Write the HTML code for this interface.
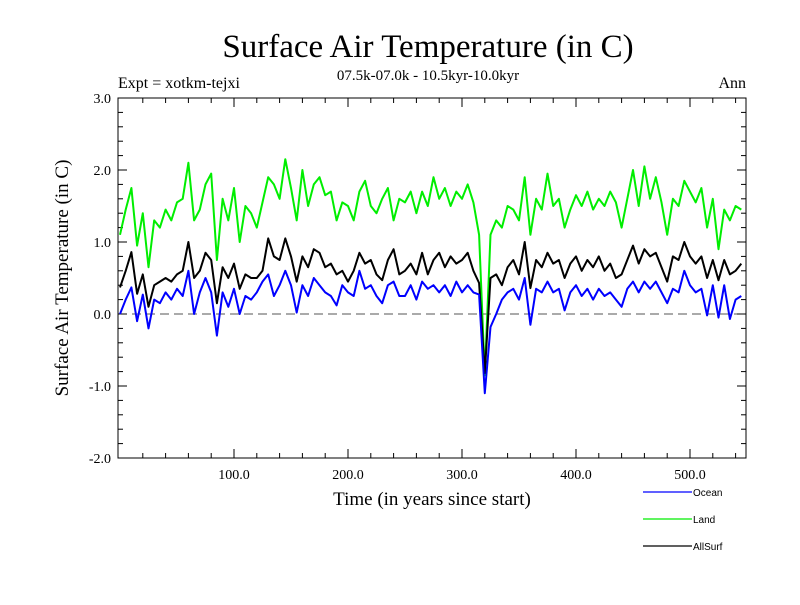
<!DOCTYPE html>
<html><head><meta charset="utf-8"><style>
body{margin:0;background:#fff;}
svg text{font-family:"Liberation Serif",serif;}
svg text.sans{font-family:"Liberation Sans",sans-serif;}
</style></head><body>
<svg id="chart" width="800" height="600" viewBox="0 0 800 600" xmlns="http://www.w3.org/2000/svg">
<text x="428" y="57" font-size="33" text-anchor="middle">Surface Air Temperature (in C)</text>
<text x="428" y="80" font-size="15" text-anchor="middle">07.5k-07.0k - 10.5kyr-10.0kyr</text>
<text x="118" y="88" font-size="16">Expt = xotkm-tejxi</text>
<text x="746" y="88" font-size="16" text-anchor="end">Ann</text>
<text transform="translate(68,278) rotate(-90)" font-size="19" text-anchor="middle">Surface Air Temperature (in C)</text>
<text x="432" y="505" font-size="19" text-anchor="middle">Time (in years since start)</text>
<g id="axes"></g>
<g id="series"></g>
<rect x="118" y="98" width="628" height="360" fill="none" stroke="#000" stroke-width="1"/>
<g id="legend"></g>
</svg>
<script>
const years = [];
for (let y = 0; y <= 545; y += 5) years.push(y);
const landValues = [1.1,1.45,1.75,0.95,1.4,0.65,1.3,1.2,1.45,1.3,1.55,1.6,2.1,1.3,1.45,1.8,1.95,0.75,1.6,1.3,1.75,1.0,1.5,1.4,1.2,1.55,1.9,1.8,1.6,2.15,1.75,1.3,2.0,1.5,1.8,1.9,1.65,1.7,1.3,1.55,1.5,1.3,1.7,1.85,1.5,1.4,1.6,1.75,1.3,1.6,1.55,1.7,1.4,1.7,1.5,1.9,1.6,1.75,1.5,1.7,1.6,1.8,1.55,1.1,-0.85,1.1,1.3,1.2,1.5,1.45,1.3,1.9,1.1,1.6,1.45,1.95,1.5,1.6,1.2,1.45,1.65,1.5,1.7,1.45,1.6,1.5,1.7,1.55,1.2,1.6,2.0,1.5,2.05,1.6,1.9,1.55,1.1,1.6,1.5,1.85,1.7,1.55,1.75,1.2,1.6,0.9,1.45,1.3,1.5,1.45];
const allSurfValues = [0.37,0.6,0.86,0.28,0.55,0.1,0.4,0.45,0.5,0.45,0.55,0.6,1.0,0.5,0.6,0.85,0.75,0.15,0.65,0.5,0.7,0.35,0.55,0.5,0.5,0.6,1.05,0.8,0.75,1.05,0.8,0.45,0.8,0.65,0.9,0.85,0.65,0.7,0.55,0.6,0.45,0.6,0.85,0.7,0.75,0.55,0.47,0.75,0.9,0.55,0.6,0.7,0.55,0.85,0.55,0.75,0.85,0.65,0.8,0.7,0.75,0.85,0.6,0.43,-0.82,0.5,0.55,0.4,0.65,0.75,0.55,1.0,0.36,0.75,0.65,0.85,0.7,0.75,0.5,0.7,0.8,0.6,0.75,0.65,0.8,0.6,0.7,0.5,0.55,0.75,0.95,0.7,0.9,0.8,0.85,0.65,0.45,0.8,0.75,1.0,0.8,0.7,0.8,0.5,0.75,0.47,0.75,0.55,0.6,0.7];
const oceanValues = [0.0,0.2,0.37,-0.1,0.27,-0.2,0.2,0.15,0.3,0.2,0.35,0.25,0.6,0.0,0.3,0.5,0.3,-0.3,0.3,0.1,0.35,0.0,0.25,0.2,0.3,0.45,0.55,0.25,0.4,0.6,0.4,0.02,0.4,0.25,0.5,0.4,0.3,0.25,0.12,0.4,0.3,0.25,0.6,0.35,0.4,0.25,0.15,0.4,0.45,0.25,0.25,0.4,0.2,0.45,0.35,0.4,0.3,0.4,0.25,0.45,0.3,0.4,0.3,0.27,-1.1,-0.18,0.0,0.2,0.3,0.35,0.2,0.5,-0.15,0.35,0.3,0.45,0.3,0.35,0.05,0.3,0.4,0.25,0.35,0.2,0.35,0.25,0.3,0.2,0.1,0.35,0.45,0.3,0.45,0.35,0.45,0.3,0.15,0.35,0.3,0.6,0.4,0.3,0.35,-0.02,0.4,-0.05,0.4,-0.07,0.2,0.25];
const yTickValues = [-2.0,-1.0,0.0,1.0,2.0,3.0];
const xTickValues = [100,200,300,400,500];
const seriesNames = ["Ocean","Land","AllSurf"];

const NS = "http://www.w3.org/2000/svg";
const X0 = 120, XS = 1.14, Y0 = 314, YS = 72;
function xPos(yr){ return X0 + yr * XS; }
function yPos(v){ return Y0 - v * YS; }
function mk(tag, attrs, parent){ const e = document.createElementNS(NS, tag); for (const k in attrs) e.setAttribute(k, attrs[k]); parent.appendChild(e); return e; }

const axes = document.getElementById("axes");
const zl = mk("line", {x1:118, x2:746, y1:yPos(0), y2:yPos(0), stroke:"#555", "stroke-width":1, "stroke-dasharray":"9,5"}, axes);


for (let v = -2.0; v <= 3.0001; v += 0.2) {
  const major = Math.abs(v - Math.round(v)) < 1e-6;
  const L = major ? 9 : 5;
  const y = yPos(v);
  const t1 = mk("line", {x1:118, x2:118+L, y1:y, y2:y, stroke:"#000"}, axes);
  
  
  const t2 = mk("line", {x1:746-L, x2:746, y1:y, y2:y, stroke:"#000"}, axes);
  
  
}
yTickValues.forEach(v => {
  const t = mk("text", {x:111, y:yPos(v)+5, "font-size":14, "text-anchor":"end"}, axes);
  t.textContent = v.toFixed(1);
  
  
});
for (let yr = 20; yr <= 549; yr += 20) {
  const major = yr % 100 === 0;
  const L = major ? 9 : 5;
  const x = xPos(yr);
  const t1 = mk("line", {x1:x, x2:x, y1:458, y2:458-L, stroke:"#000"}, axes);
  
  
  const t2 = mk("line", {x1:x, x2:x, y1:98, y2:98+L, stroke:"#000"}, axes);
  
  
}
xTickValues.forEach(v => {
  const t = mk("text", {x:xPos(v), y:479, "font-size":14, "text-anchor":"middle"}, axes);
  t.textContent = v.toFixed(1);
  
  
});

const series = document.getElementById("series");
const colors = ["#0000ff","#00ee00","#000000"];
const data = [oceanValues, landValues, allSurfValues];
const drawOrder = [1, 2, 0];
drawOrder.forEach(i => {
  const pts = data[i].map((v, k) => xPos(years[k]).toFixed(1) + "," + yPos(v).toFixed(1)).join(" ");
  const p = mk("polyline", {points:pts, fill:"none", stroke:colors[i], "stroke-width":2, "stroke-linejoin":"round"}, series);
  
  
});

const legend = document.getElementById("legend");
seriesNames.forEach((n, i) => {
  const y = 492 + i * 27;
  const l = mk("line", {x1:643, x2:692, y1:y, y2:y, stroke:colors[i], "stroke-width":1.2}, legend);
  
  
  const t = mk("text", {x:693, y:y+4, "font-size":10, "class":"sans"}, legend);
  t.textContent = n;
  
  
});
</script>
</body></html>
